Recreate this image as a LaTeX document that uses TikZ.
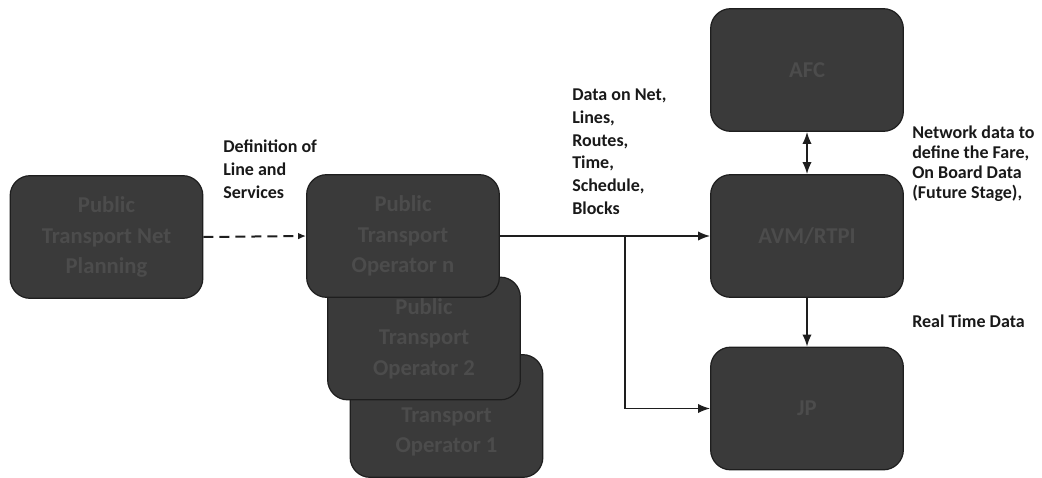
\documentclass[tikz,border=0pt]{standalone}
\usepackage{fontspec}
\setmainfont{Carlito}
\usetikzlibrary{arrows.meta}

\tikzset{
  darkbox/.style={draw={rgb, 255:red, 30; green, 30; blue, 30 }, line width=0.9pt, fill={rgb, 255:red, 58; green, 58; blue, 58 }, fill opacity=1, rounded corners=15pt, minimum width=144.5pt, minimum height=92pt, align=center, text={rgb, 255:red, 76; green, 76; blue, 76 }, font=\fontsize{17}{23}\selectfont\bfseries},
  lbl/.style={anchor=north west, inner sep=0.75pt, align=left, font=\fontsize{13.5}{17}\selectfont\bfseries, text={rgb, 255:red, 25; green, 25; blue, 25 }},
  flow/.style={line width=1.1pt, color={rgb, 255:red, 30; green, 30; blue, 30 }, -{Latex[length=9pt,width=7pt]}}
}

\begin{document}
\begin{tikzpicture}[x=0.75pt,y=0.75pt,yscale=-1,xscale=1]
\path [use as bounding box] (0,0) rectangle (1042,478);

%Shape: Rounded Rect [id:planning]
\node [darkbox] (plan) at (106.5,237) {Public\\Transport Net\\Planning};
%Shape: Rounded Rect [id:operator1]
\node [darkbox] (opone) at (446.5,416) {\vphantom{Public}\\Transport\\Operator 1};
%Shape: Rounded Rect [id:operator2]
\node [darkbox] (optwo) at (424,338.5) {Public\\Transport\\Operator 2};
%Shape: Rounded Rect [id:operatorn]
\node [darkbox] (opn) at (403,236) {Public\\Transport\\Operator n};
%Shape: Rounded Rect [id:afc]
\node [darkbox] (afc) at (807,70) {AFC};
%Shape: Rounded Rect [id:avm]
\node [darkbox] (avm) at (807,236) {AVM/RTPI};
%Shape: Rounded Rect [id:jp]
\node [darkbox] (jp) at (807,408.5) {JP};

%Straight Lines [id:dashed]
\draw [flow, line width=1.5pt, dash pattern=on 7.5pt off 4.5pt, -{Latex[length=6pt,width=5pt]}] (plan.east) -- (opn.west);
%Straight Lines [id:tovm]
\draw [flow] (opn.east) -- (avm.west);
%Straight Lines [id:tojp]
\coordinate (branch) at (625,236);
\draw [flow] (branch) |- (jp.west);
%Straight Lines [id:afcavm]
\draw [flow, {Latex[length=9pt,width=7pt]}-{Latex[length=9pt,width=7pt]}] (afc.south) -- (avm.north);
%Straight Lines [id:avmjp]
\draw [flow] (avm.south) -- (jp.north);

% Text Node
\draw (222,139) node [lbl] (ldef) {Definition of\\Line and\\Services};
% Text Node
\draw (571,88) node [lbl] (ldata) {Data on Net,\\Lines,\\Routes,\\Time,\\Schedule,\\Blocks};
% Text Node
\draw (911,125) node [lbl, font=\fontsize{13.5}{15}\selectfont\bfseries] (lnet) {Network data to\\define the Fare,\\On Board Data\\(Future Stage),};
% Text Node
\draw (911,314) node [lbl] (lreal) {Real Time Data};

\end{tikzpicture}
\end{document}
